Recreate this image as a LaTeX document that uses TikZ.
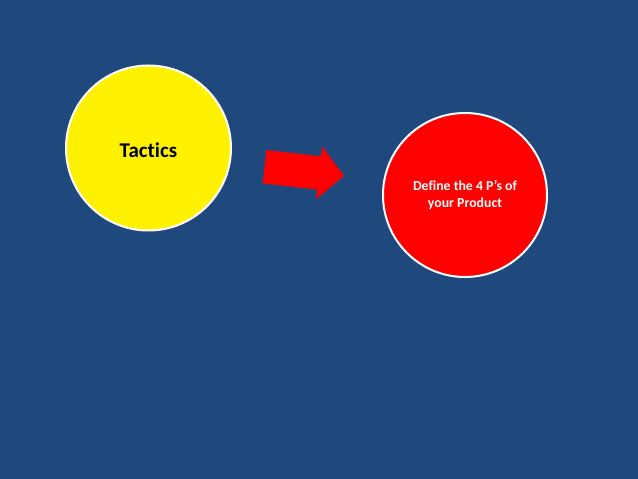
\documentclass[tikz,border=0pt]{standalone}
\usepackage{fontspec}
\setmainfont{Carlito}[Ligatures=NoCommon]
\definecolor{slideblue}{HTML}{1F497D}
\begin{document}
\begin{tikzpicture}[x=1pt,y=1pt,
  disc/.style={circle, draw=white, line width=2pt, inner sep=0pt, align=center}]
\fill[slideblue] (0,0) rectangle (638,479);
\useasboundingbox (0,0) rectangle (638,479);
\node[disc, fill=yellow, minimum size=165pt] (tactics) at (148.5,331){};
\node[font=\fontsize{21}{24}\selectfont\bfseries] (tacticslabel) at ([yshift=-2.5pt]tactics.center){Tactics};
\node[disc, fill=red, minimum size=164pt, text=white, font=\fontsize{13.8}{17}\selectfont\bfseries] (define) at (465,284){Define the 4 P’s of\\your Product};
\begin{scope}[shift={(264.5,312.3)}, rotate=-6.5]
\fill[red] (0,-16.75) -- (55,-16.75) -- (55,-26.5) -- (80,0) -- (55,26.5) -- (55,16.75) -- (0,16.75) -- cycle;
\end{scope}
\end{tikzpicture}
\end{document}
